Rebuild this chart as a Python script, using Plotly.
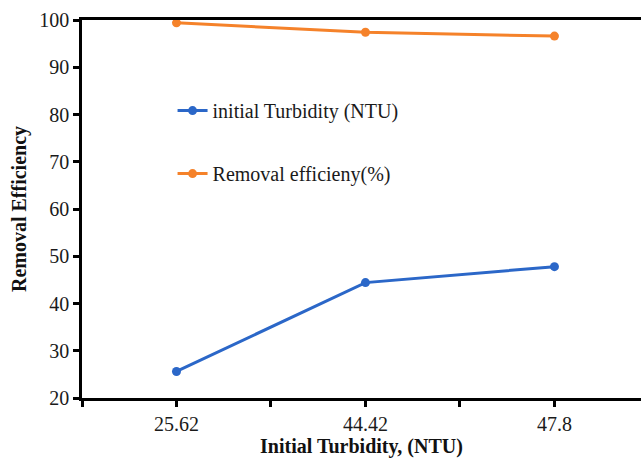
import plotly.graph_objects as go

turbidity_labels = ["25.62", "44.42", "47.8"]
initial_turbidity = [25.62, 44.42, 47.8]
removal_efficiency = [99.4, 97.4, 96.6]

x_pos = list(range(len(turbidity_labels)))
tick_vals = [i / 2 - 0.5 for i in range(2 * len(turbidity_labels) + 1)]
tick_text = [turbidity_labels[int(v)] if v >= 0 and v == int(v) and int(v) < len(turbidity_labels) else "" for v in tick_vals]

blue = "#2b67c8"
orange = "#f5822a"
font = "Liberation Serif, Times New Roman, serif"

fig = go.Figure()
fig.add_trace(go.Scatter(x=x_pos, y=initial_turbidity, mode="lines+markers",
                         name="initial Turbidity (NTU)", legendgroup="a",
                         line=dict(color=blue, width=3), marker=dict(size=9, color=blue),
                         cliponaxis=False))
fig.add_trace(go.Scatter(x=x_pos, y=removal_efficiency, mode="lines+markers",
                         name="Removal efficieny(%)", legendgroup="b",
                         line=dict(color=orange, width=3), marker=dict(size=9, color=orange),
                         cliponaxis=False))

fig.update_layout(
    width=641, height=458,
    margin=dict(l=82, r=0, t=20, b=60),
    plot_bgcolor="white", paper_bgcolor="white",
    font=dict(family=font, size=20, color="#1a1a1a"),
    showlegend=True,
    legend=dict(x=0.162, y=0.812, xanchor="left", yanchor="top",
                bgcolor="rgba(0,0,0,0)", traceorder="grouped", tracegroupgap=34,
                font=dict(family=font, size=20, color="#1a1a1a"), itemwidth=30),
    xaxis=dict(range=[-0.5, 2.458], tickmode="array", tickvals=tick_vals, ticktext=tick_text,
               showgrid=False, zeroline=False, showline=True, linecolor="black", linewidth=2.5,
               mirror=True, ticks="outside", ticklen=6, tickwidth=2.5, tickcolor="black",
               title=dict(text="<b>Initial Turbidity, (NTU)</b>", standoff=8,
                          font=dict(family=font, size=20, color="#111"))),
    yaxis=dict(range=[20, 100], dtick=10, showgrid=False, zeroline=False,
               showline=True, linecolor="black", linewidth=2.5,
               ticks="outside", ticklen=6, tickwidth=2.5, tickcolor="black",
               title=dict(text="<b>Removal Efficiency</b>", standoff=8,
                          font=dict(family=font, size=20, color="#111"))),
)

fig.write_html("out.html")
